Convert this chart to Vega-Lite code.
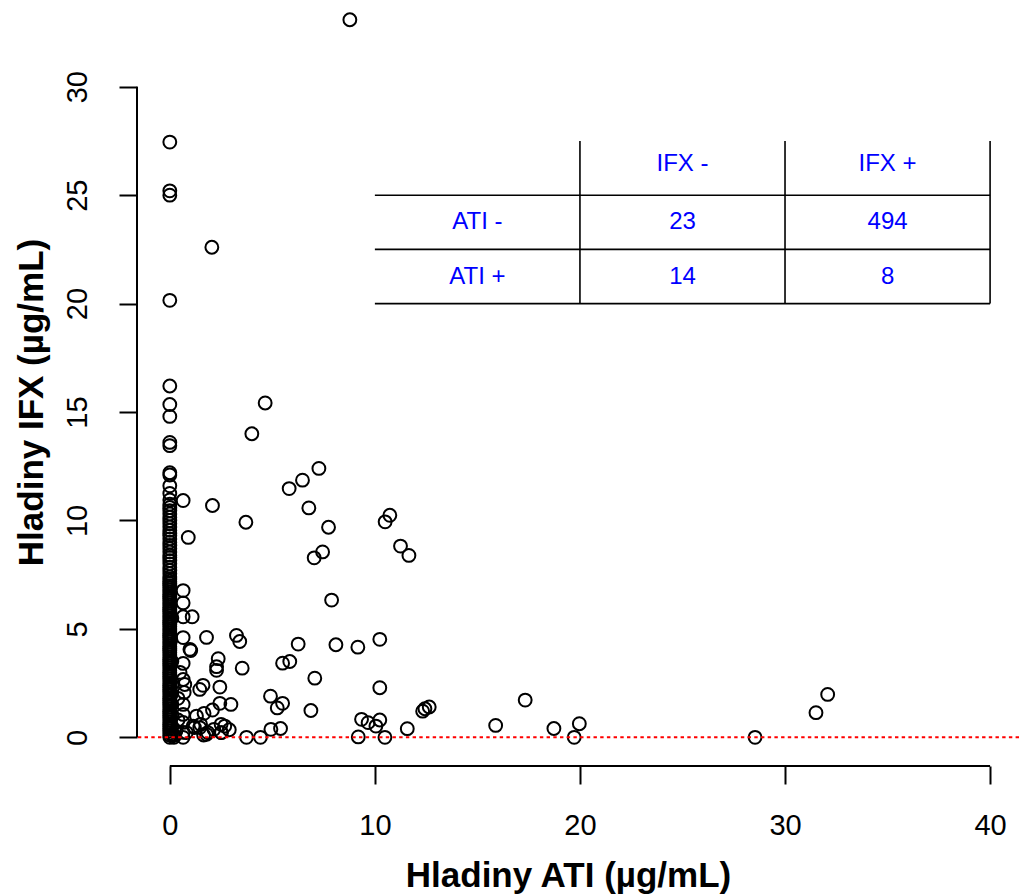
{
  "$schema": "https://vega.github.io/schema/vega-lite/v6.json",
  "width": 882,
  "height": 766,
  "autosize": {"type": "none"},
  "padding": {"left": 137, "top": 0, "right": 0, "bottom": 128},
  "background": "white",
  "config": {"view": {"stroke": null}},
  "datasets": {
    "pts": [
      {"ATI":0,"IFX":27.45},{"ATI":0,"IFX":25.2},{"ATI":0,"IFX":25.0},{"ATI":0,"IFX":20.15},{"ATI":0,"IFX":16.2},{"ATI":0,"IFX":15.35},{"ATI":0,"IFX":14.8},{"ATI":0,"IFX":13.6},{"ATI":0,"IFX":13.45},{"ATI":0,"IFX":12.2},{"ATI":0,"IFX":12.1},{"ATI":0,"IFX":11.6},{"ATI":0,"IFX":11.25},
      {"ATI":0,"IFX":10.95},{"ATI":0,"IFX":10.75},{"ATI":0,"IFX":10.6},{"ATI":0,"IFX":10.45},{"ATI":0,"IFX":10.3},{"ATI":0,"IFX":10.15},{"ATI":0,"IFX":10.0},{"ATI":0,"IFX":9.85},{"ATI":0,"IFX":9.7},{"ATI":0,"IFX":9.55},{"ATI":0,"IFX":9.4},{"ATI":0,"IFX":9.3},{"ATI":0,"IFX":9.15},{"ATI":0,"IFX":9.0},{"ATI":0,"IFX":8.85},{"ATI":0,"IFX":8.7},{"ATI":0,"IFX":8.55},{"ATI":0,"IFX":8.4},{"ATI":0,"IFX":8.3},{"ATI":0,"IFX":8.15},{"ATI":0,"IFX":8.0},{"ATI":0,"IFX":7.85},{"ATI":0,"IFX":7.7},{"ATI":0,"IFX":7.55},{"ATI":0,"IFX":7.4},
      {"ATI":0,"IFX":7.3},{"ATI":0,"IFX":7.2},{"ATI":0,"IFX":7.1},{"ATI":0,"IFX":7.0},{"ATI":0,"IFX":6.9},{"ATI":0,"IFX":6.8},{"ATI":0,"IFX":6.7},{"ATI":0,"IFX":6.6},{"ATI":0,"IFX":6.5},{"ATI":0,"IFX":6.4},{"ATI":0,"IFX":6.3},{"ATI":0,"IFX":6.2},{"ATI":0,"IFX":6.1},{"ATI":0,"IFX":6.0},{"ATI":0,"IFX":5.9},{"ATI":0,"IFX":5.8},{"ATI":0,"IFX":5.7},{"ATI":0,"IFX":5.6},{"ATI":0,"IFX":5.5},{"ATI":0,"IFX":5.4},{"ATI":0,"IFX":5.3},{"ATI":0,"IFX":5.2},{"ATI":0,"IFX":5.1},{"ATI":0,"IFX":5.0},{"ATI":0,"IFX":4.9},{"ATI":0,"IFX":4.8},{"ATI":0,"IFX":4.7},{"ATI":0,"IFX":4.6},{"ATI":0,"IFX":4.5},{"ATI":0,"IFX":4.4},{"ATI":0,"IFX":4.3},{"ATI":0,"IFX":4.2},{"ATI":0,"IFX":4.1},{"ATI":0,"IFX":4.0},{"ATI":0,"IFX":3.9},{"ATI":0,"IFX":3.8},{"ATI":0,"IFX":3.7},{"ATI":0,"IFX":3.6},{"ATI":0,"IFX":3.5},{"ATI":0,"IFX":3.4},{"ATI":0,"IFX":3.3},{"ATI":0,"IFX":3.2},{"ATI":0,"IFX":3.1},{"ATI":0,"IFX":3.0},{"ATI":0,"IFX":2.9},{"ATI":0,"IFX":2.8},{"ATI":0,"IFX":2.7},{"ATI":0,"IFX":2.6},{"ATI":0,"IFX":2.5},{"ATI":0,"IFX":2.4},{"ATI":0,"IFX":2.3},{"ATI":0,"IFX":2.2},{"ATI":0,"IFX":2.1},{"ATI":0,"IFX":2.0},{"ATI":0,"IFX":1.9},{"ATI":0,"IFX":1.8},{"ATI":0,"IFX":1.7},{"ATI":0,"IFX":1.6},{"ATI":0,"IFX":1.5},{"ATI":0,"IFX":1.4},{"ATI":0,"IFX":1.3},{"ATI":0,"IFX":1.2},{"ATI":0,"IFX":1.1},{"ATI":0,"IFX":1.0},{"ATI":0,"IFX":0.9},{"ATI":0,"IFX":0.8},{"ATI":0,"IFX":0.7},{"ATI":0,"IFX":0.6},{"ATI":0,"IFX":0.5},{"ATI":0,"IFX":0.4},{"ATI":0,"IFX":0.3},{"ATI":0,"IFX":0.2},{"ATI":0,"IFX":0.1},{"ATI":0,"IFX":0.0},
      {"ATI":0.1,"IFX":0.5},{"ATI":0.1,"IFX":1.5},{"ATI":0.15,"IFX":2.5},{"ATI":0.1,"IFX":3.5},{"ATI":0.05,"IFX":4.5},{"ATI":0.1,"IFX":5.5},{"ATI":0.15,"IFX":0.1},{"ATI":0.12,"IFX":1.0},{"ATI":0.08,"IFX":2.0},{"ATI":0.2,"IFX":0.0},
      {"ATI":8.78,"IFX":33.09},{"ATI":2.05,"IFX":22.6},{"ATI":4.65,"IFX":15.42},{"ATI":4.0,"IFX":14.0},{"ATI":7.27,"IFX":12.4},{"ATI":6.47,"IFX":11.86},{"ATI":5.82,"IFX":11.47},{"ATI":0.65,"IFX":10.92},{"ATI":2.08,"IFX":10.69},{"ATI":6.78,"IFX":10.58},{"ATI":3.71,"IFX":9.92},{"ATI":7.74,"IFX":9.69},{"ATI":10.73,"IFX":10.24},{"ATI":10.5,"IFX":9.94},{"ATI":0.9,"IFX":9.22},{"ATI":11.25,"IFX":8.82},{"ATI":11.66,"IFX":8.39},{"ATI":7.45,"IFX":8.55},{"ATI":7.04,"IFX":8.28},
      {"ATI":0.65,"IFX":6.77},{"ATI":0.65,"IFX":6.2},{"ATI":0.65,"IFX":5.56},{"ATI":1.09,"IFX":5.56},{"ATI":7.89,"IFX":6.33},{"ATI":1.79,"IFX":4.61},{"ATI":0.65,"IFX":4.6},{"ATI":3.25,"IFX":4.7},{"ATI":3.41,"IFX":4.42},{"ATI":6.26,"IFX":4.3},{"ATI":8.1,"IFX":4.27},{"ATI":9.17,"IFX":4.16},{"ATI":10.24,"IFX":4.52},{"ATI":1.02,"IFX":4.0},{"ATI":0.65,"IFX":3.41},{"ATI":2.36,"IFX":3.63},{"ATI":2.28,"IFX":3.26},{"ATI":2.28,"IFX":3.09},{"ATI":3.53,"IFX":3.19},{"ATI":5.5,"IFX":3.42},{"ATI":5.85,"IFX":3.5},{"ATI":7.07,"IFX":2.73},{"ATI":10.24,"IFX":2.29},
      {"ATI":0.65,"IFX":2.67},{"ATI":0.73,"IFX":2.44},{"ATI":1.62,"IFX":2.4},{"ATI":1.46,"IFX":2.21},{"ATI":2.44,"IFX":2.32},{"ATI":4.91,"IFX":1.9},{"ATI":5.24,"IFX":1.36},{"ATI":5.5,"IFX":1.57},{"ATI":6.88,"IFX":1.24},{"ATI":2.98,"IFX":1.52},{"ATI":2.44,"IFX":1.57},{"ATI":2.08,"IFX":1.26},{"ATI":1.67,"IFX":1.11},{"ATI":1.3,"IFX":0.98},{"ATI":1.5,"IFX":0.6},{"ATI":1.2,"IFX":0.45},{"ATI":2.5,"IFX":0.6},{"ATI":2.15,"IFX":0.37},{"ATI":2.5,"IFX":0.22},{"ATI":2.9,"IFX":0.35},{"ATI":1.85,"IFX":0.22},{"ATI":1.65,"IFX":0.11},
      {"ATI":3.74,"IFX":0.0},{"ATI":4.42,"IFX":0.0},{"ATI":4.93,"IFX":0.37},{"ATI":5.4,"IFX":0.41},{"ATI":9.19,"IFX":0.02},{"ATI":9.35,"IFX":0.83},{"ATI":9.67,"IFX":0.68},{"ATI":10.05,"IFX":0.52},{"ATI":10.24,"IFX":0.8},{"ATI":10.49,"IFX":0.0},{"ATI":11.58,"IFX":0.4},{"ATI":12.33,"IFX":1.21},{"ATI":12.44,"IFX":1.32},{"ATI":12.65,"IFX":1.4},{"ATI":15.89,"IFX":0.55},{"ATI":17.33,"IFX":1.72},{"ATI":18.73,"IFX":0.41},{"ATI":19.97,"IFX":0.63},{"ATI":19.72,"IFX":0.0},{"ATI":28.54,"IFX":0.0},{"ATI":31.51,"IFX":1.14},{"ATI":32.08,"IFX":1.98},
      {"ATI":0.7,"IFX":2.07},{"ATI":0.65,"IFX":1.52},{"ATI":0.65,"IFX":1.06},{"ATI":0.65,"IFX":0.69},{"ATI":0.65,"IFX":0.23},{"ATI":0.65,"IFX":0.0},{"ATI":0.4,"IFX":0.8},{"ATI":0.4,"IFX":1.8},{"ATI":0.3,"IFX":0.3},{"ATI":0.98,"IFX":4.06},{"ATI":1.14,"IFX":0.52},{"ATI":0.81,"IFX":0.22},{"ATI":1.46,"IFX":0.45},{"ATI":1.79,"IFX":0.14},{"ATI":2.68,"IFX":0.52},{"ATI":2.52,"IFX":0.22},{"ATI":0.2,"IFX":0.1},{"ATI":0.5,"IFX":3.0}
    ]
  },
  "layer": [
    {
      "data": {"name": "pts"},
      "mark": {"type": "point", "shape": "circle", "filled": false, "stroke": "black", "strokeWidth": 2, "size": 165, "opacity": 1},
      "encoding": {
        "x": {
          "field": "ATI", "type": "quantitative",
          "scale": {"domain": [-1.6, 41.41], "nice": false, "zero": false},
          "axis": {
            "values": [0, 10, 20, 30, 40], "domain": false, "grid": false,
            "tickSize": 18, "tickWidth": 2, "tickColor": "black",
            "labelFont": "Liberation Sans", "labelFontSize": 29, "labelColor": "black",
            "labelBaseline": "alphabetic", "labelPadding": 50, "labelFlush": false, "labelOverlap": false,
            "title": "Hladiny ATI (µg/mL)", "titleFont": "Liberation Sans", "titleFontWeight": "bold",
            "titleFontSize": 35, "titleColor": "black", "titleX": 431, "titleY": 120, "titleBaseline": "alphabetic", "titleAlign": "center"
          }
        },
        "y": {
          "field": "IFX", "type": "quantitative",
          "scale": {"domain": [-1.32, 34.0], "nice": false, "zero": false},
          "axis": {
            "values": [0, 5, 10, 15, 20, 25, 30], "domain": false, "grid": false,
            "tickSize": 18, "tickWidth": 2, "tickColor": "black",
            "labelFont": "Liberation Sans", "labelFontSize": 29, "labelColor": "black",
            "labelAngle": 270, "labelAlign": "center", "labelBaseline": "alphabetic", "labelPadding": 33, "labelFlush": false, "labelOverlap": false,
            "title": "Hladiny IFX (µg/mL)", "titleFont": "Liberation Sans", "titleFontWeight": "bold",
            "titleFontSize": 35, "titleColor": "black", "titleX": -95, "titleY": 402, "titleAngle": 270, "titleBaseline": "alphabetic", "titleAlign": "center"
          }
        }
      }
    },
    {
      "data": {"values": [{}]},
      "mark": {"type": "rule", "color": "red", "strokeWidth": 2, "strokeDash": [3.4, 3.3]},
      "encoding": {"y": {"datum": 0}}
    },
    {
      "data": {"values": [{}]},
      "mark": {"type": "rule", "color": "black", "strokeWidth": 2},
      "encoding": {"x": {"datum": -1.6}, "y": {"datum": 0}, "y2": {"datum": 30}}
    },
    {
      "data": {"values": [{}]},
      "mark": {"type": "rule", "color": "black", "strokeWidth": 2},
      "encoding": {"y": {"datum": -1.32}, "x": {"datum": 0}, "x2": {"datum": 40}}
    },
    {
      "data": {"values": [{}]},
      "mark": {"type": "rule", "color": "black", "strokeWidth": 1.6},
      "encoding": {"y": {"datum": 25}, "x": {"datum": 10}, "x2": {"datum": 40}}
    },
    {
      "data": {"values": [{}]},
      "mark": {"type": "rule", "color": "black", "strokeWidth": 1.6},
      "encoding": {"y": {"datum": 22.5}, "x": {"datum": 10}, "x2": {"datum": 40}}
    },
    {
      "data": {"values": [{}]},
      "mark": {"type": "rule", "color": "black", "strokeWidth": 1.6},
      "encoding": {"y": {"datum": 20}, "x": {"datum": 10}, "x2": {"datum": 40}}
    },
    {
      "data": {"values": [{}]},
      "mark": {"type": "rule", "color": "black", "strokeWidth": 1.6},
      "encoding": {"x": {"datum": 20}, "y": {"datum": 20}, "y2": {"datum": 27.5}}
    },
    {
      "data": {"values": [{}]},
      "mark": {"type": "rule", "color": "black", "strokeWidth": 1.6},
      "encoding": {"x": {"datum": 30}, "y": {"datum": 20}, "y2": {"datum": 27.5}}
    },
    {
      "data": {"values": [{}]},
      "mark": {"type": "rule", "color": "black", "strokeWidth": 1.6},
      "encoding": {"x": {"datum": 40}, "y": {"datum": 20}, "y2": {"datum": 27.5}}
    },
    {
      "data": {"values": [{"t": "IFX -"}]},
      "mark": {"type": "text", "color": "#0000FF", "font": "Liberation Sans", "fontSize": 24, "baseline": "middle", "align": "center"},
      "encoding": {"x": {"datum": 25}, "y": {"datum": 26.45}, "text": {"field": "t"}}
    },
    {
      "data": {"values": [{"t": "IFX +"}]},
      "mark": {"type": "text", "color": "#0000FF", "font": "Liberation Sans", "fontSize": 24, "baseline": "middle", "align": "center"},
      "encoding": {"x": {"datum": 35}, "y": {"datum": 26.45}, "text": {"field": "t"}}
    },
    {
      "data": {"values": [{"t": "ATI -"}]},
      "mark": {"type": "text", "color": "#0000FF", "font": "Liberation Sans", "fontSize": 24, "baseline": "middle", "align": "center"},
      "encoding": {"x": {"datum": 15}, "y": {"datum": 23.75}, "text": {"field": "t"}}
    },
    {
      "data": {"values": [{"t": "23"}]},
      "mark": {"type": "text", "color": "#0000FF", "font": "Liberation Sans", "fontSize": 24, "baseline": "middle", "align": "center"},
      "encoding": {"x": {"datum": 25}, "y": {"datum": 23.75}, "text": {"field": "t"}}
    },
    {
      "data": {"values": [{"t": "494"}]},
      "mark": {"type": "text", "color": "#0000FF", "font": "Liberation Sans", "fontSize": 24, "baseline": "middle", "align": "center"},
      "encoding": {"x": {"datum": 35}, "y": {"datum": 23.75}, "text": {"field": "t"}}
    },
    {
      "data": {"values": [{"t": "ATI +"}]},
      "mark": {"type": "text", "color": "#0000FF", "font": "Liberation Sans", "fontSize": 24, "baseline": "middle", "align": "center"},
      "encoding": {"x": {"datum": 15}, "y": {"datum": 21.25}, "text": {"field": "t"}}
    },
    {
      "data": {"values": [{"t": "14"}]},
      "mark": {"type": "text", "color": "#0000FF", "font": "Liberation Sans", "fontSize": 24, "baseline": "middle", "align": "center"},
      "encoding": {"x": {"datum": 25}, "y": {"datum": 21.25}, "text": {"field": "t"}}
    },
    {
      "data": {"values": [{"t": "8"}]},
      "mark": {"type": "text", "color": "#0000FF", "font": "Liberation Sans", "fontSize": 24, "baseline": "middle", "align": "center"},
      "encoding": {"x": {"datum": 35}, "y": {"datum": 21.25}, "text": {"field": "t"}}
    }
  ]
}
